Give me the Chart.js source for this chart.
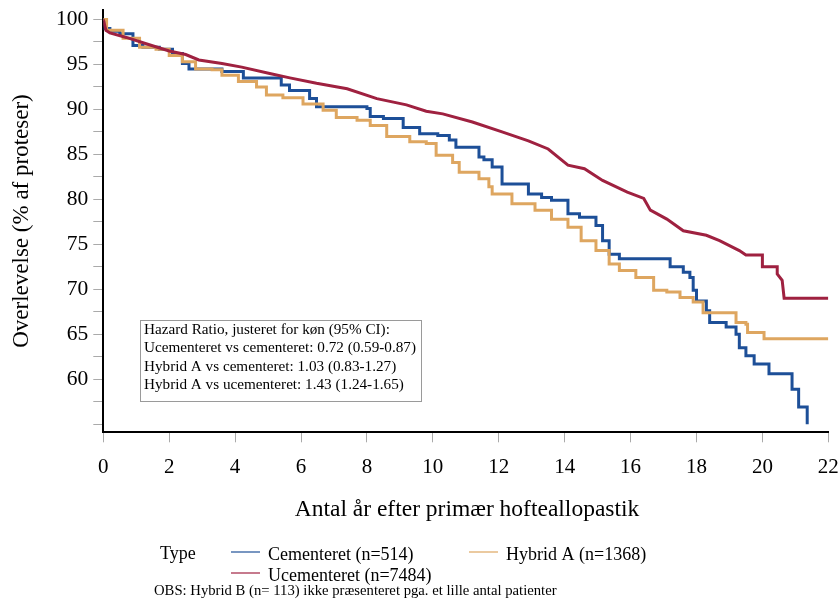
<!DOCTYPE html>
<html lang="da">
<head>
    <meta charset="UTF-8">
    <title>Overlevelse efter primær hofteallopastik</title>
    <script src="https://cdn.jsdelivr.net/npm/chart.js"></script>
    <style>
        * {
            margin: 0;
            padding: 0;
            box-sizing: border-box;
        }

        body {
            background: #ffffff;
            width: 838px;
            height: 604px;
            overflow: hidden;
        }

        canvas {
            display: block;
        }
    </style>
</head>
<body>
    <canvas id="survivalChart" width="838" height="604"></canvas>

    <script>
        // Kaplan-Meier readings: time (years) and survival (%) after each drop
        const cementTimes = [0, 0.05, 0.2, 0.5, 0.9, 1.2, 1.7, 2.1, 2.4, 2.6, 3.6, 4.25, 5.4, 5.65, 6.26, 6.47,
            8.0, 8.1, 8.5, 9.1, 9.6, 10.15, 10.5, 10.7, 11.4, 11.55, 11.8, 12.1, 12.9, 13.3, 13.6, 14.1, 14.45,
            14.95, 15.15, 15.35, 15.66, 17.2, 17.6, 17.8, 17.9, 18.0, 18.3, 18.4, 18.9, 19.2, 19.3, 19.5, 19.75,
            20.2, 20.9, 21.1, 21.36];
        const cementValues = [100, 99.0, 98.7, 98.4, 97.1, 96.9, 96.7, 96.2, 95.1, 94.5, 94.2, 93.5, 92.7, 92.1, 91.2, 90.3,
            90.1, 89.2, 89.0, 88.0, 87.3, 87.1, 86.6, 85.8, 84.7, 84.4, 83.6, 81.7, 80.6, 80.2, 79.9, 78.4, 78.0,
            77.1, 75.4, 73.9, 73.4, 72.5, 71.9, 71.3, 69.9, 68.7, 67.6, 66.3, 65.8, 65.0, 63.5, 62.6, 61.7,
            60.6, 58.9, 56.9, 55.0];

        const hybridTimes = [0, 0.1, 0.6, 1.1, 1.6, 2.0, 2.4, 2.8, 3.3, 3.6, 4.1, 4.65, 4.95, 5.45, 6.06, 6.67,
            7.07, 7.7, 8.1, 8.6, 9.3, 9.8, 10.1, 10.6, 10.8, 11.4, 11.7, 11.8, 12.4, 13.1, 13.6, 14.1, 14.5,
            14.95, 15.35, 15.66, 16.16, 16.7, 17.1, 17.5, 17.9, 18.2, 19.2, 19.5, 19.55, 20.05, 22];
        const hybridValues = [100, 98.8, 97.9, 96.9, 96.7, 96.0, 95.3, 94.5, 94.4, 93.8, 93.1, 92.5, 91.6, 91.3, 90.6, 89.9,
            89.1, 88.8, 88.2, 87.0, 86.4, 86.2, 84.9, 84.1, 83.0, 82.3, 81.4, 80.6, 79.5, 78.8, 77.8, 76.9, 75.4,
            74.3, 72.8, 72.1, 71.3, 69.9, 69.7, 69.1, 68.6, 67.4, 66.3, 66.1, 65.2, 64.5, 64.5];

        // large group: near-continuous curve, steps only visible at the end
        const uncementTimes = [0, 0.08, 0.2, 0.7, 1.3, 2.0, 2.5, 2.9, 3.6, 4.2, 5.05, 5.66, 6.47, 7.4, 8.3, 9.2,
            9.8, 10.3, 11.2, 12.1, 12.9, 13.5, 14.1, 14.6, 15.15, 15.9, 16.4, 16.6, 17.1, 17.6, 18.3, 18.7,
            19.3, 19.5, 20.0, 20.0, 20.45, 20.45, 20.6, 20.66, 22];
        const uncementValues = [100, 98.8, 98.5, 98.0, 97.3, 96.5, 96.1, 95.5, 95.1, 94.7, 94.0, 93.5, 92.9, 92.3, 91.2, 90.5,
            89.8, 89.5, 88.6, 87.5, 86.5, 85.6, 83.8, 83.4, 82.1, 80.8, 80.1, 78.8, 77.8, 76.5, 76.0, 75.4,
            74.3, 73.8, 73.8, 72.5, 72.5, 71.7, 71.0, 69.0, 69.0];

        const xTickValues = [0, 2, 4, 6, 8, 10, 12, 14, 16, 18, 20, 22];
        const yTickValues = [55, 57.5, 60, 62.5, 65, 67.5, 70, 72.5, 75, 77.5, 80, 82.5, 85, 87.5, 90, 92.5, 95, 97.5, 100];

        const seriesNames = ['Cementeret (n=514)', 'Hybrid A (n=1368)', 'Ucementeret (n=7484)'];
        const hazardLines = [
            'Hazard Ratio, justeret for køn (95% CI):',
            'Ucementeret vs cementeret: 0.72 (0.59-0.87)',
            'Hybrid A vs cementeret: 1.03 (0.83-1.27)',
            'Hybrid A vs ucementeret: 1.43 (1.24-1.65)'
        ];

        const BLUE = '#1d4f98';
        const ORANGE = '#dea660';
        const RED = '#9f2140';
        const SERIF = '"Liberation Serif", "Times New Roman", serif';

        const toPoints = (times, values) => times.map((t, i) => ({ x: t, y: values[i] }));

        // axis titles, hazard box, legend and note
        const textPlugin = {
            id: 'texts',
            afterDraw(chart) {
                const ctx = chart.ctx;
                ctx.save();
                ctx.fillStyle = '#000';
                ctx.textBaseline = 'middle';

                // y title
                ctx.save();
                ctx.translate(22, 221);
                ctx.rotate(-Math.PI / 2);
                ctx.textAlign = 'center';
                ctx.font = '23px ' + SERIF;
                ctx.fillText('Overlevelse (% af proteser)', 0, 0);
                ctx.restore();

                // x title
                ctx.textAlign = 'center';
                ctx.font = '23.5px ' + SERIF;
                ctx.fillText('Antal år efter primær hofteallopastik', 467, 510);

                // hazard ratio box
                ctx.fillStyle = '#fff';
                ctx.fillRect(140.5, 320.5, 281, 81);
                ctx.strokeStyle = '#9a9a9a';
                ctx.lineWidth = 1;
                ctx.strokeRect(140.5, 320.5, 281, 81);
                ctx.fillStyle = '#000';
                ctx.textAlign = 'left';
                ctx.font = '15.2px ' + SERIF;
                hazardLines.forEach((line, i) => ctx.fillText(line, 144, 330 + i * 18.5));

                // legend
                ctx.font = '18px ' + SERIF;
                ctx.fillText('Type', 160, 554);
                const legendItems = [
                    { color: BLUE, x: 231, y: 552, label: seriesNames[0] },
                    { color: ORANGE, x: 469, y: 552, label: seriesNames[1] },
                    { color: RED, x: 231, y: 573, label: seriesNames[2] }
                ];
                legendItems.forEach(item => {
                    ctx.strokeStyle = item.color;
                    ctx.lineWidth = 1.2;
                    ctx.beginPath();
                    ctx.moveTo(item.x, item.y);
                    ctx.lineTo(item.x + 29, item.y);
                    ctx.stroke();
                    ctx.fillText(item.label, item.x + 37, item.y + 3);
                });

                ctx.font = '14.7px ' + SERIF;
                ctx.fillText('OBS: Hybrid B (n= 113) ikke præsenteret pga. et lille antal patienter', 154, 591);
                ctx.restore();
            }
        };

        const ctx = document.getElementById('survivalChart').getContext('2d');
        const chart = new Chart(ctx, {
            type: 'line',
            data: {
                datasets: [
                    {
                        label: seriesNames[0],
                        data: toPoints(cementTimes, cementValues),
                        borderColor: BLUE,
                        stepped: 'before',
                        order: 3
                    },
                    {
                        label: seriesNames[1],
                        data: toPoints(hybridTimes, hybridValues),
                        borderColor: ORANGE,
                        stepped: 'before',
                        order: 2
                    },
                    {
                        label: seriesNames[2],
                        data: toPoints(uncementTimes, uncementValues),
                        borderColor: RED,
                        stepped: false,
                        order: 1
                    }
                ]
            },
            options: {
                responsive: false,
                animation: false,
                devicePixelRatio: 1,
                layout: { padding: { top: 10, right: 9.7, left: 0, bottom: 0 } },
                elements: {
                    line: { borderWidth: 3, tension: 0, borderCapStyle: 'butt', borderJoinStyle: 'miter' },
                    point: { radius: 0 }
                },
                plugins: {
                    legend: { display: false },
                    tooltip: { enabled: false }
                },
                scales: {
                    x: {
                        type: 'linear',
                        min: 0,
                        max: 22,
                        afterBuildTicks: scale => { scale.ticks = xTickValues.map(v => ({ value: v })); },
                        afterFit: scale => {
                            scale.height = 171.7;
                            scale.paddingLeft = 0;
                            scale.paddingRight = 0;
                        },
                        ticks: {
                            color: '#000',
                            padding: 13,
                            maxRotation: 0,
                            autoSkip: false,
                            font: { family: SERIF, size: 21 }
                        },
                        grid: {
                            drawOnChartArea: false,
                            drawTicks: true,
                            tickLength: 10,
                            color: '#aaaaaa',
                            lineWidth: 1
                        },
                        border: { display: true, color: '#000', width: 2 }
                    },
                    y: {
                        type: 'linear',
                        min: 54.1,
                        max: 101.05,
                        afterBuildTicks: scale => { scale.ticks = yTickValues.map(v => ({ value: v })); },
                        afterFit: scale => {
                            scale.width = 103.3;
                            scale.paddingTop = 0;
                            scale.paddingBottom = 0;
                        },
                        ticks: {
                            color: '#000',
                            padding: 5,
                            autoSkip: false,
                            font: { family: SERIF, size: 21.5 },
                            callback: v => (v % 5 === 0 && v >= 60) ? v : ''
                        },
                        grid: {
                            drawOnChartArea: false,
                            drawTicks: true,
                            tickLength: 10,
                            color: '#aaaaaa',
                            lineWidth: 1
                        },
                        border: { display: true, color: '#000', width: 2 }
                    }
                }
            },
            plugins: [textPlugin]
        });
    </script>
</body>
</html>
